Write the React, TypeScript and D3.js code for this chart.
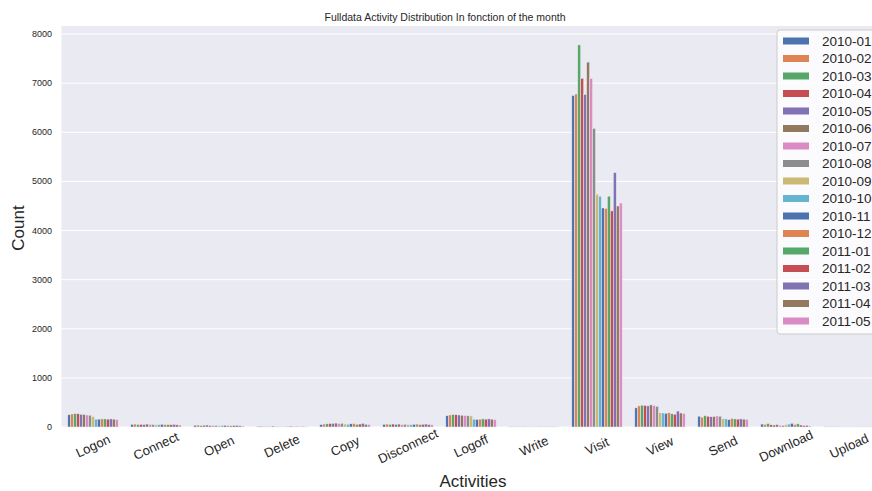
import React from "react";
import * as d3 from "d3";

const categories = ["Logon", "Connect", "Open", "Delete", "Copy", "Disconnect", "Logoff", "Write", "Visit", "View", "Send", "Download", "Upload"];
const months = ["2010-01", "2010-02", "2010-03", "2010-04", "2010-05", "2010-06", "2010-07", "2010-08", "2010-09", "2010-10", "2010-11", "2010-12", "2011-01", "2011-02", "2011-03", "2011-04", "2011-05"];

const logon = [250, 265, 275, 270, 260, 255, 245, 240, 215, 160, 160, 165, 165, 160, 165, 160, 150];
const connect = [55, 60, 50, 55, 50, 60, 55, 50, 45, 50, 55, 50, 50, 45, 55, 45, 40];
const open = [35, 40, 30, 35, 40, 30, 35, 30, 25, 30, 35, 30, 25, 30, 35, 25, 20];
const del = [15, 20, 15, 10, 15, 20, 15, 10, 15, 10, 15, 20, 10, 15, 10, 15, 10];
const copy = [50, 60, 65, 70, 75, 80, 70, 75, 60, 55, 65, 70, 55, 60, 75, 55, 50];
const disconnect = [55, 60, 55, 60, 55, 60, 50, 55, 50, 45, 55, 60, 50, 55, 60, 50, 45];
const logoff = [230, 245, 255, 250, 245, 240, 235, 230, 225, 160, 155, 160, 165, 160, 165, 160, 150];
const write = [5, 6, 5, 4, 6, 5, 4, 5, 3, 4, 5, 4, 3, 4, 5, 4, 3];
const visit = [6750, 6780, 7780, 7100, 6770, 7430, 7100, 6080, 4740, 4700, 4460, 4450, 4700, 4400, 5180, 4500, 4560];
const view = [390, 430, 445, 440, 430, 450, 440, 420, 290, 285, 280, 290, 270, 260, 325, 285, 275];
const send = [220, 200, 230, 220, 210, 215, 225, 220, 170, 165, 150, 175, 165, 160, 165, 160, 155];
const download = [60, 55, 70, 45, 40, 50, 35, 30, 45, 60, 75, 50, 65, 40, 30, 35, 20];
const upload = [4, 3, 5, 3, 4, 3, 2, 3, 4, 3, 2, 3, 4, 3, 2, 3, 2];

const seriesByCategory = [logon, connect, open, del, copy, disconnect, logoff, write, visit, view, send, download, upload];
const yTicks = [0, 1000, 2000, 3000, 4000, 5000, 6000, 7000, 8000];
const palette = ["#4c72b0", "#dd8452", "#55a868", "#c44e52", "#8172b3", "#937860", "#da8bc3", "#8c8c8c", "#ccb974", "#64b5cd"];

export default function App() {
  const W = 872, H = 491;
  const left = 61.5, right = 880.5, top = 26, bottom = 427;
  const x = d3.scaleBand<string>().domain(categories).range([left, right]).paddingInner(0).paddingOuter(0);
  const bw = x.bandwidth();
  const inner = d3.scaleBand<string>().domain(months).range([bw * 0.1, bw * 0.9]).padding(0);
  const y = d3.scaleLinear().domain([0, 8165]).range([bottom, top]);
  const color = d3.scaleOrdinal<string, string>().domain(months).range(months.map((_, i) => palette[i % palette.length]));
  const font = "'Liberation Sans', Arial, sans-serif";
  const txt = "#262626";

  return (
    <svg width={W} height={H} style={{ position: "absolute", left: 0, top: 0, background: "#fff" }} fontFamily={font}>
      <rect x={left} y={top} width={right - left} height={bottom - top} fill="#eaeaf2" />
      {yTicks.map((t) => (
        <g key={t}>
          <line x1={left} x2={right} y1={y(t)} y2={y(t)} stroke="#fff" strokeWidth={1} />
          <text x={52} y={y(t)} textAnchor="end" dominantBaseline="central" fontSize={9} fill={txt}>{t}</text>
        </g>
      ))}
      {categories.map((c, ci) => (
        <g key={c}>
          {seriesByCategory[ci].map((v, mi) => (
            <rect key={mi} x={(x(c) as number) + (inner(months[mi]) as number)} y={y(v)} width={inner.bandwidth()} height={bottom - y(v)} fill={color(months[mi])} stroke="#eaeaf2" strokeWidth={0.5} />
          ))}
        </g>
      ))}
      {categories.map((c) => {
        const cx = (x(c) as number) + bw / 2;
        const cy = 446;
        return (
          <text key={c} x={cx} y={cy} transform={`rotate(-25 ${cx} ${cy})`} textAnchor="middle" dominantBaseline="central" fontSize={13} fill={txt}>{c}</text>
        );
      })}
      <text x={445} y={21} textAnchor="middle" fontSize={10.5} fill={txt}>Fulldata Activity Distribution In fonction of the month</text>
      <text x={473} y={487} textAnchor="middle" fontSize={17} fill={txt}>Activities</text>
      <text transform={`translate(24 228) rotate(-90)`} textAnchor="middle" fontSize={17} fill={txt}>Count</text>
      <g>
        <rect x={777} y={30} width={105} height={304} rx={3} fill="#fff" fillOpacity={0.8} stroke="#cccccc" />
        {months.map((m, i) => {
          const ry = 41 + i * 17.5;
          return (
            <g key={m}>
              <rect x={783} y={ry - 3.5} width={26} height={7} fill={color(m)} />
              <text x={822} y={ry} dominantBaseline="central" fontSize={13.5} fill={txt}>{m}</text>
            </g>
          );
        })}
      </g>
    </svg>
  );
}
